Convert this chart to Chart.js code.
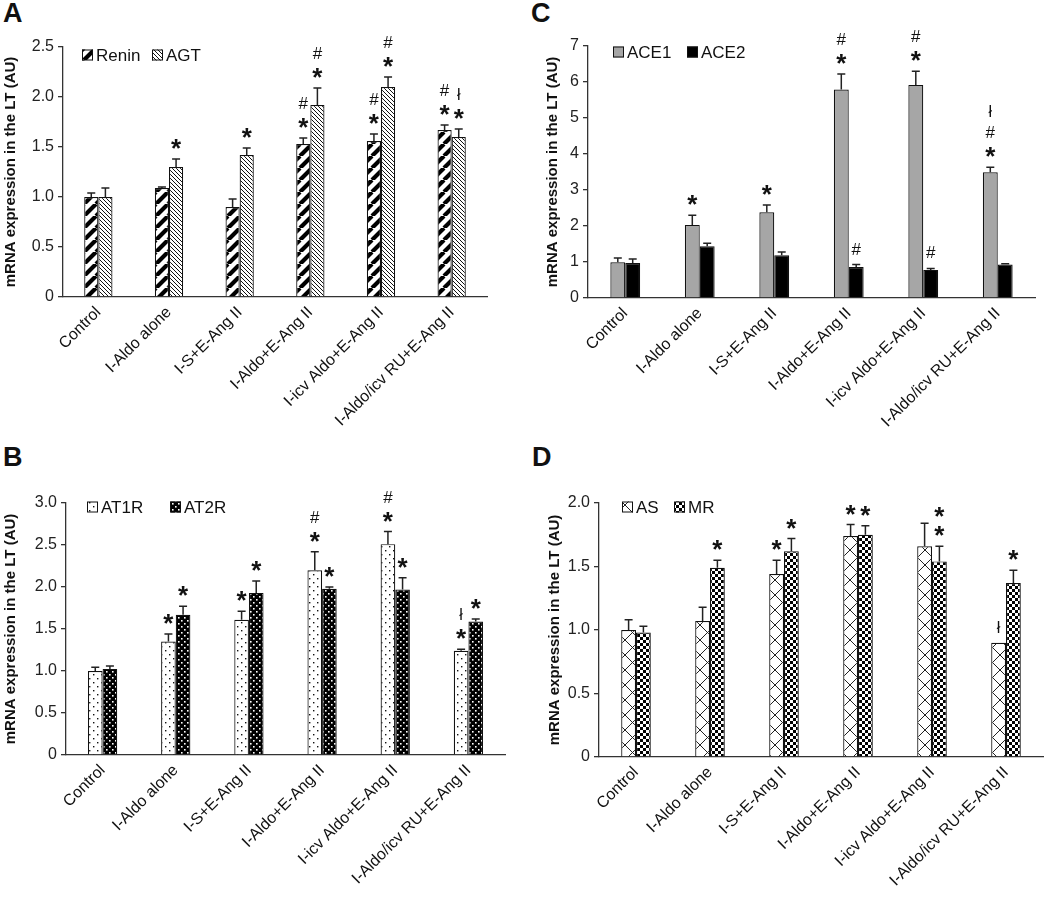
<!DOCTYPE html>
<html>
<head>
<meta charset="utf-8">
<script src="https://cdn.jsdelivr.net/npm/chart.js@4.4.0/dist/chart.umd.min.js"></script>
<style>
  body { margin: 0; background: #fff; width: 1050px; height: 901px; position: relative; overflow: hidden; font-family: 'Liberation Sans', Arial, sans-serif; }
  canvas { position: absolute; }
  .tag { position: absolute; font-weight: bold; font-size: 27px; line-height: 1; color: #111; }
</style>
</head>
<body>
<div class="tag" style="left:3px;top:0px">A</div>
<div class="tag" style="left:531px;top:0px">C</div>
<div class="tag" style="left:3px;top:444px">B</div>
<div class="tag" style="left:532px;top:444px">D</div>
<canvas id="cA" width="520" height="445" style="left:0;top:0"></canvas>
<canvas id="cC" width="530" height="445" style="left:520px;top:0"></canvas>
<canvas id="cB" width="520" height="456" style="left:0;top:445px"></canvas>
<canvas id="cD" width="530" height="456" style="left:520px;top:445px"></canvas>
<script>
const groups = ['Control', 'I-Aldo alone', 'I-S+E-Ang II', 'I-Aldo+E-Ang II', 'I-icv Aldo+E-Ang II', 'I-Aldo/icv RU+E-Ang II'];

// A
const renin = [1.00, 1.09, 0.90, 1.53, 1.56, 1.67];
const reninErr = [0.04, 0.01, 0.08, 0.06, 0.07, 0.05];
const reninMarks = ['', '', '', '*#', '*#', '*#'];
const agt = [1.00, 1.30, 1.42, 1.92, 2.10, 1.60];
const agtErr = [0.09, 0.08, 0.07, 0.17, 0.10, 0.08];
const agtMarks = ['', '*', '*', '*#', '*#', '*ł'];

// C
const ace1 = [0.99, 2.03, 2.38, 5.79, 5.92, 3.49];
const ace1Err = [0.12, 0.27, 0.20, 0.43, 0.38, 0.14];
const ace1Marks = ['', '*', '*', '*#', '*#', '*#ł'];
const ace2 = [0.97, 1.44, 1.19, 0.86, 0.78, 0.93];
const ace2Err = [0.11, 0.08, 0.09, 0.07, 0.04, 0.02];
const ace2Marks = ['', '', '', '#', '#', ''];

// B
const at1r = [1.00, 1.35, 1.61, 2.20, 2.51, 1.24];
const at1rErr = [0.045, 0.09, 0.10, 0.22, 0.15, 0.02];
const at1rMarks = ['', '*', '*', '*#', '*#', '*ł'];
const at2r = [1.025, 1.67, 1.93, 1.98, 1.97, 1.59];
const at2rErr = [0.035, 0.10, 0.14, 0.02, 0.14, 0.03];
const at2rMarks = ['', '*', '*', '*', '*', '*'];

// D
const asVals = [1.00, 1.07, 1.44, 1.74, 1.66, 0.90];
const asErr = [0.08, 0.11, 0.11, 0.09, 0.18, 0.0];
const asMarks = ['', '', '*', '*', '', 'ł'];
const mr = [0.98, 1.49, 1.62, 1.75, 1.54, 1.37];
const mrErr = [0.05, 0.06, 0.10, 0.07, 0.12, 0.10];
const mrMarks = ['', '*', '*', '*', '**', '*'];

const FONT = "'Liberation Sans', Arial, sans-serif";

function tile(w, h, draw) {
  const c = document.createElement('canvas');
  c.width = w; c.height = h;
  const g = c.getContext('2d');
  g.fillStyle = '#fff';
  g.fillRect(0, 0, w, h);
  draw(g, w, h);
  return c;
}

const tiles = {
  bigSlash: tile(12, 12, (g, w, h) => {
    g.strokeStyle = '#000'; g.lineWidth = 4.2; g.beginPath();
    for (const o of [-w, 0, w]) { g.moveTo(o, h); g.lineTo(o + w, 0); }
    g.stroke();
  }),
  fineBack: tile(4, 4, (g, w, h) => {
    g.strokeStyle = '#111'; g.lineWidth = 1; g.beginPath();
    for (const o of [-w, 0, w]) { g.moveTo(o, 0); g.lineTo(o + w, h); }
    g.stroke();
  }),
  dots: tile(8, 8, (g) => {
    g.fillStyle = '#111';
    g.fillRect(1, 1, 1.4, 1.4); g.fillRect(5, 5, 1.4, 1.4);
  }),
  darkDots: tile(6, 6, (g) => {
    g.fillStyle = '#000'; g.fillRect(0, 0, 6, 6);
    g.fillStyle = '#fff';
    g.fillRect(1, 1, 1.6, 1.6); g.fillRect(4, 4, 1.6, 1.6);
  }),
  cross: tile(15, 15, (g, w, h) => {
    g.strokeStyle = '#222'; g.lineWidth = 1; g.beginPath();
    g.moveTo(0, 0); g.lineTo(w, h); g.moveTo(w, 0); g.lineTo(0, h);
    g.stroke();
  }),
  checker: tile(6, 6, (g) => {
    g.fillStyle = '#000';
    g.fillRect(0, 0, 3, 3); g.fillRect(3, 3, 3, 3);
  })
};

function fillFor(ctx, f) {
  if (tiles[f]) return ctx.createPattern(tiles[f], 'repeat');
  return f;
}

const errorBars = {
  id: 'errorBars',
  afterDatasetsDraw(chart) {
    const ctx = chart.ctx;
    const y = chart.scales.y;
    ctx.save();
    ctx.strokeStyle = '#222';
    ctx.lineWidth = 1.5;
    ctx.textAlign = 'center';
    ctx.textBaseline = 'alphabetic';
    ctx.fillStyle = '#111';
    chart.data.datasets.forEach((ds, i) => {
      chart.getDatasetMeta(i).data.forEach((bar, j) => {
        const top = y.getPixelForValue(ds.data[j] + ds.err[j]);
        if (ds.err[j] > 0) {
          ctx.beginPath();
          ctx.moveTo(bar.x, bar.y);
          ctx.lineTo(bar.x, top);
          ctx.moveTo(bar.x - 4, top);
          ctx.lineTo(bar.x + 4, top);
          ctx.stroke();
        }
        // significance marks stacked upward from the error cap
        let cursor = top - 10;
        for (const s of ds.marks[j]) {
          ctx.font = s === '*' ? 'bold 26px ' + FONT : (s === '#' ? '17px ' + FONT : '16px ' + FONT);
          const m = ctx.measureText(s);
          const asc = m.actualBoundingBoxAscent, desc = m.actualBoundingBoxDescent;
          ctx.fillText(s, bar.x, cursor - desc);
          cursor -= asc + desc + 9;
        }
      });
    });
    ctx.restore();
  }
};

const boxLegend = {
  id: 'boxLegend',
  afterDraw(chart, args, opts) {
    const ctx = chart.ctx;
    ctx.save();
    ctx.font = '17px ' + FONT;
    ctx.textBaseline = 'middle';
    ctx.textAlign = 'left';
    chart.data.datasets.forEach((ds, i) => {
      const bx = opts.xs[i], by = opts.y;
      ctx.fillStyle = ds.backgroundColor;
      ctx.fillRect(bx, by - 5.5, 11, 11);
      ctx.strokeStyle = '#111';
      ctx.lineWidth = 1;
      ctx.strokeRect(bx + 0.5, by - 5, 10, 10);
      ctx.fillStyle = '#111';
      ctx.fillText(ds.label, bx + 14, by + 1);
    });
    ctx.restore();
  }
};

function panel(id, p) {
  const cv = document.getElementById(id);
  const ctx = cv.getContext('2d');
  return new Chart(ctx, {
    type: 'bar',
    data: {
      labels: groups,
      datasets: p.series.map(s => ({
        label: s.name,
        data: s.values,
        err: s.err,
        marks: s.marks,
        backgroundColor: fillFor(ctx, s.fill),
        borderColor: '#111',
        borderWidth: 1.2,
        categoryPercentage: 0.4,
        barPercentage: 1.0
      }))
    },
    options: {
      responsive: false,
      animation: false,
      events: [],
      layout: { padding: { left: p.padLeft, top: p.padTop, right: p.padRight, bottom: 0 } },
      plugins: {
        legend: { display: false },
        tooltip: { enabled: false },
        boxLegend: { xs: p.legendXs, y: p.legendY }
      },
      scales: {
        x: {
          grid: { display: false, drawTicks: false },
          border: { display: true, color: '#333', width: 1.3 },
          ticks: {
            autoSkip: false, minRotation: 45, maxRotation: 45, padding: 6,
            color: '#111', font: { family: FONT, size: 16 }
          },
          afterFit(scale) { scale.height = p.xHeight; }
        },
        y: {
          min: 0, max: p.max,
          grid: { drawOnChartArea: false, drawTicks: true, tickLength: 5, color: '#333', lineWidth: 1.3 },
          border: { display: true, color: '#333', width: 1.3 },
          ticks: {
            stepSize: p.step, padding: 4, color: '#222',
            font: { family: FONT, size: 16 },
            callback: v => v === 0 ? '0' : v.toFixed(p.dec)
          },
          title: {
            display: true, text: 'mRNA expression in the LT (AU)',
            color: '#111', font: { family: FONT, size: 15, weight: 'bold' },
            padding: { top: 2, bottom: 0 }
          },
          afterFit(scale) { scale.width = p.yWidth; }
        }
      }
    },
    plugins: [errorBars, boxLegend]
  });
}

panel('cA', {
  padLeft: 0, yWidth: 63, padTop: 47, padRight: 33, xHeight: 148,
  max: 2.5, step: 0.5, dec: 1, legendXs: [82, 152], legendY: 55,
  series: [
    { name: 'Renin', values: renin, err: reninErr, marks: reninMarks, fill: 'bigSlash' },
    { name: 'AGT', values: agt, err: agtErr, marks: agtMarks, fill: 'fineBack' }
  ]
});

panel('cC', {
  padLeft: 22, yWidth: 46, padTop: 46, padRight: 15, xHeight: 147,
  max: 7, step: 1, dec: 0, legendXs: [93, 167], legendY: 52,
  series: [
    { name: 'ACE1', values: ace1, err: ace1Err, marks: ace1Marks, fill: '#a6a6a6' },
    { name: 'ACE2', values: ace2, err: ace2Err, marks: ace2Marks, fill: '#000000' }
  ]
});

panel('cB', {
  padLeft: 0, yWidth: 66, padTop: 58, padRight: 15, xHeight: 146,
  max: 3, step: 0.5, dec: 1, legendXs: [87, 170], legendY: 62,
  series: [
    { name: 'AT1R', values: at1r, err: at1rErr, marks: at1rMarks, fill: 'dots' },
    { name: 'AT2R', values: at2r, err: at2rErr, marks: at2rMarks, fill: 'darkDots' }
  ]
});

panel('cD', {
  padLeft: 24, yWidth: 55, padTop: 58, padRight: 7, xHeight: 144,
  max: 2, step: 0.5, dec: 1, legendXs: [102, 154], legendY: 62,
  series: [
    { name: 'AS', values: asVals, err: asErr, marks: asMarks, fill: 'cross' },
    { name: 'MR', values: mr, err: mrErr, marks: mrMarks, fill: 'checker' }
  ]
});
</script>
</body>
</html>
